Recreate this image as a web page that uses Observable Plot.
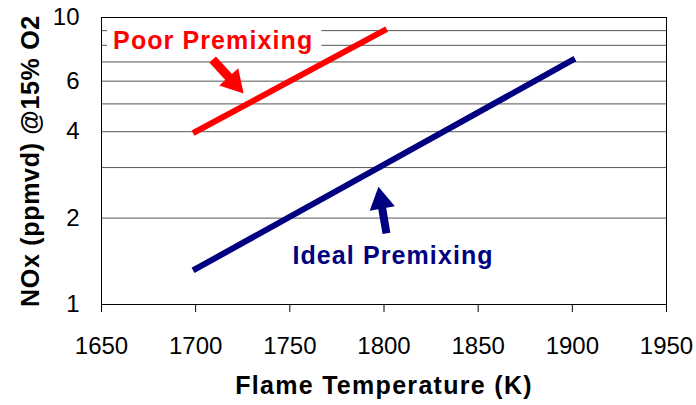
<!DOCTYPE html>
<html><head><meta charset="utf-8">
<script src="https://cdn.jsdelivr.net/npm/d3@7"></script>
<script src="https://cdn.jsdelivr.net/npm/@observablehq/plot@0.6"></script>
<style>
body{margin:0;background:#fff}
</style></head><body><div id="chart"></div>
<script>
// Data
const idealTemps = [1700, 1800, 1900];
const idealNOx = [1.33, 3.07, 7.1];
const poorTemps = [1700, 1800];
const poorNOx = [4.0, 9.0];
const xTicks = [1650, 1700, 1750, 1800, 1850, 1900, 1950];
const yLabelTicks = [1, 2, 4, 6, 10];
const yGrid = [1, 2, 3, 4, 5, 6, 7, 8, 9, 10];
const seriesNames = ["Poor Premixing", "Ideal Premixing"];
const seriesColors = ["#ff0000", "#000080"];
const xTitle = "Flame Temperature (K)";
const yTitle = "NOx (ppmvd) @15% O2";
// annotation anchors (data coordinates)
const labelX = [1709.3, 1804.8];
const labelY = [8.28, 1.47];
const arrowFromX = [1709, 1801.3];
const arrowFromY = [7.14, 1.77];
const arrowHeadX = [1720.2, 1798.4];
const arrowHeadY = [5.94, 2.29];
const arrowAngle = [138, -10];
const labelBox = {x1: 1650, x2: 1767, y1: 7.5, y2: 9.6};

const ideal = idealTemps.map((t, i) => ({t, v: idealNOx[i]}));
const poor = poorTemps.map((t, i) => ({t, v: poorNOx[i]}));
const ann = seriesNames.map((name, i) => ({
  name, color: seriesColors[i], lx: labelX[i], ly: labelY[i],
  ax: arrowFromX[i], ay: arrowFromY[i], hx: arrowHeadX[i], hy: arrowHeadY[i], rot: arrowAngle[i]
}));

const font = "Arial, 'Liberation Sans', Helvetica, sans-serif";
const plot = Plot.plot({
  width: 696, height: 405,
  marginLeft: 101, marginRight: 30, marginTop: 17, marginBottom: 101,
  style: {fontFamily: font, fontSize: "24px", color: "#000", background: "#fff"},
  x: {domain: [1650, 1950]},
  y: {type: "log", domain: [1, 10]},
  marks: [
    Plot.ruleY(yGrid, {stroke: "#555", strokeWidth: 1}),
    Plot.rect([labelBox], {x1: "x1", x2: "x2", y1: "y1", y2: "y2", fill: "white", insetLeft: 6}),
    Plot.frame({stroke: "black"}),
    Plot.axisX({ticks: xTicks, tickSize: 8, tickPadding: 24, tickFormat: d => String(d), label: null, fontSize: 24}),
    Plot.axisY({ticks: yLabelTicks, tickSize: 0, tickPadding: 22, tickFormat: d => String(d), label: null, fontSize: 24}),
    Plot.line(poor, {x: "t", y: "v", stroke: seriesColors[0], strokeWidth: 6, strokeLinecap: "square"}),
    Plot.line(ideal, {x: "t", y: "v", stroke: seriesColors[1], strokeWidth: 6, strokeLinecap: "square"}),
    Plot.link([ann[0]], {x1: "ax", y1: "ay", x2: "hx", y2: "hy", stroke: seriesColors[0], strokeWidth: 9}),
    Plot.link([ann[1]], {x1: "ax", y1: "ay", x2: "hx", y2: "hy", stroke: seriesColors[1], strokeWidth: 8}),
    Plot.dot([ann[0]], {x: "hx", y: "hy", symbol: "triangle", r: 9.5, rotate: "rot", fill: seriesColors[0], stroke: null}),
    Plot.dot([ann[1]], {x: "hx", y: "hy", symbol: "triangle", r: 9.5, rotate: "rot", fill: seriesColors[1], stroke: null}),
    Plot.text([ann[0]], {x: "lx", y: "ly", text: "name", fill: seriesColors[0], fontSize: 25, fontWeight: "bold"}),
    Plot.text([ann[1]], {x: "lx", y: "ly", text: "name", fill: seriesColors[1], fontSize: 25, fontWeight: "bold"}),
    Plot.text([xTitle], {frameAnchor: "bottom", dy: 81, lineAnchor: "middle", fontSize: 25, fontWeight: "bold"}),
    Plot.text([yTitle], {frameAnchor: "left", dx: -71, rotate: -90, textAnchor: "middle", lineAnchor: "middle", fontSize: 25, fontWeight: "bold"})
  ]
});
// widen bold texts a little to match the reference's letter spacing
const spacing = new Map([[seriesNames[0], 1.1], [seriesNames[1], 1.1], [xTitle, 1.3], [yTitle, 0.7]]);
d3.select(plot).selectAll("text").each(function() {
  const s = spacing.get(this.textContent);
  if (s != null) this.setAttribute("letter-spacing", s);
});
document.getElementById("chart").appendChild(plot);
</script>
</body></html>
